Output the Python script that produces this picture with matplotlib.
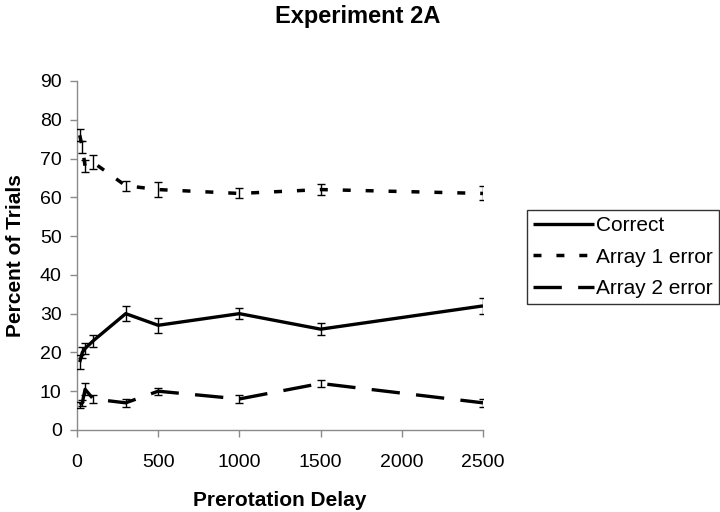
import matplotlib
matplotlib.use("Agg")
import matplotlib.pyplot as plt

# prerotation delay (ms)
delay = [17, 33, 50, 100, 300, 500, 1000, 1500, 2500]

correct = [17.5, 20, 21, 23, 30, 27, 30, 26, 32]
correct_err = [1.8, 1.5, 1.5, 1.5, 2.0, 2.0, 1.5, 1.5, 2.0]

array1 = [76, 73, 68, 69, 63, 62, 61, 62, 61]
array1_err = [1.5, 1.5, 1.5, 1.8, 1.3, 2.0, 1.3, 1.5, 1.8]

array2 = [6.5, 7, 10.5, 8, 7, 10, 8, 12, 7]
array2_err = [0.8, 0.8, 1.5, 1.0, 1.0, 0.9, 1.0, 1.0, 1.0]

labels = ["Correct", "Array 1 error", "Array 2 error"]

plt.rcParams["font.family"] = ["Liberation Sans", "DejaVu Sans"]

fig = plt.figure(figsize=(7.2, 5.12), dpi=100)
ax = fig.add_axes([0.1069, 0.1602, 0.5639, 0.6816])

styles = ["-", (0, (2.3, 4.3)), (0, (8.5, 4.9))]
widths = [2.4, 2.5, 2.4]
series = [(correct, correct_err), (array1, array1_err), (array2, array2_err)]

for (vals, err), ls, lw, lab in zip(series, styles, widths, labels):
    ax.plot(delay, vals, color="black", linestyle=ls, lw=lw, label=lab,
            solid_capstyle="butt", dash_capstyle="butt", zorder=3)
    ax.errorbar(delay, vals, yerr=err, fmt="none", ecolor="black",
                elinewidth=1.0, capsize=3, capthick=1.0, zorder=4)

ax.set_xlim(0, 2500)
ax.set_ylim(0, 90)
ax.set_xticks(range(0, 2501, 500))
ax.set_yticks(range(0, 91, 10))

for side in ["top", "right"]:
    ax.spines[side].set_visible(False)
for side in ["left", "bottom"]:
    ax.spines[side].set_color("#8a8a8a")
    ax.spines[side].set_linewidth(1.0)

ax.tick_params(axis="both", direction="out", length=5, width=1.0,
               color="#8a8a8a", labelsize=14, labelcolor="black")
ax.tick_params(axis="x", pad=12)
ax.tick_params(axis="y", pad=6)

ax.set_xlabel("Prerotation Delay", fontsize=15, fontweight="bold", labelpad=15)
ax.set_ylabel("Percent of Trials", fontsize=15, fontweight="bold", labelpad=11)

fig.suptitle("Experiment 2A", fontsize=17, fontweight="bold", x=0.497, y=0.99)

leg = ax.legend(loc="upper left", bbox_to_anchor=(0.732, 0.590),
                bbox_transform=fig.transFigure, fontsize=15, frameon=True,
                fancybox=False, edgecolor="black", handlelength=2.9,
                handletextpad=0.1, labelspacing=0.6, borderpad=0.3,
                borderaxespad=0)
leg.get_frame().set_linewidth(1.0)

fig.savefig("out.png", dpi=100)
